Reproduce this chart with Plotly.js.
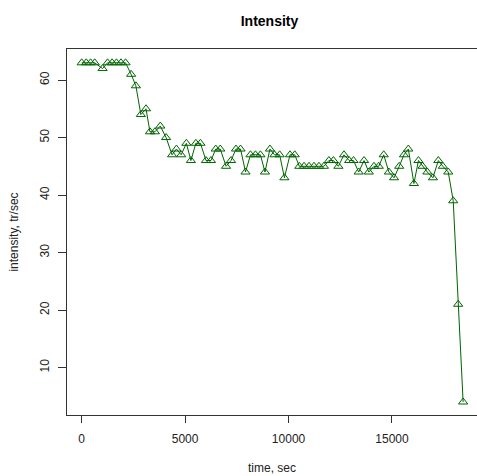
<!DOCTYPE html>
<html>
<head>
<meta charset="utf-8">
<script src="https://cdn.plot.ly/plotly-3.0.1.min.js"></script>
<style>html,body{margin:0;padding:0;background:#fff;}#chart{width:477px;height:476px;}</style>
</head>
<body>
<div id="chart"></div>
<script>
const times = [0, 220, 430, 630, 1010, 1250, 1470, 1680, 1900, 2120,
  2390, 2620, 2860, 3110, 3300, 3540, 3800, 4080, 4370, 4580,
  4810, 5060, 5280, 5520, 5740, 6010, 6250, 6480, 6700, 6980,
  7220, 7460, 7680, 7920, 8160, 8400, 8640, 8860, 9100, 9320,
  9570, 9800, 10070, 10300, 10520, 10750, 10990, 11230, 11470, 11710,
  11950, 12170, 12410, 12680, 12930, 13140, 13390, 13650, 13880, 14130,
  14360, 14600, 14850, 15100, 15350, 15580, 15790, 16060, 16280, 16480,
  16710, 16980, 17240, 17460, 17720, 17960, 18200, 18440];
const intensity = [63, 63, 63, 63, 62, 63, 63, 63, 63, 63,
  61, 59, 54, 55, 51, 51, 52, 50, 47, 48,
  47, 49, 46, 49, 49, 46, 46, 48, 48, 45,
  46, 48, 48, 44, 47, 47, 47, 44, 48, 47,
  47, 43, 47, 47, 45, 45, 45, 45, 45, 45,
  46, 46, 45, 47, 46, 46, 44, 46, 44, 45,
  45, 47, 44, 43, 45, 47, 48, 42, 46, 45,
  44, 43, 46, 45, 44, 39, 21, 4];
const xTicks = [0, 5000, 10000, 15000];
const yTicks = [10, 20, 30, 40, 50, 60];

const font = {family: 'Liberation Sans, Arial, sans-serif', size: 12, color: '#222'};
const trace = {
  x: times, y: intensity, type: 'scatter', mode: 'lines+markers',
  line: {color: '#006400', width: 1},
  marker: {symbol: 'triangle-up-open', size: 8, color: '#006400', line: {width: 1, color: '#006400'}},
  hoverinfo: 'x+y'
};
const layout = {
  width: 477, height: 476,
  margin: {l: 67, r: 0, t: 49, b: 61},
  paper_bgcolor: '#fff', plot_bgcolor: '#fff',
  showlegend: false,
  font: font,
  title: {text: '<b>Intensity</b>', font: {family: 'Liberation Sans, Arial, sans-serif', size: 14, color: '#000'}, x: 0.565, xanchor: 'center', y: 0.955, yanchor: 'middle'},
  xaxis: {
    range: [-710, 19110], tickvals: xTicks, ticktext: xTicks.map(String),
    showgrid: false, zeroline: false, showline: true, mirror: true, linecolor: '#333', linewidth: 1,
    ticks: 'outside', ticklen: 7, tickcolor: '#333', ticklabelstandoff: 6,
    tickfont: font,
    title: {text: 'time, sec', font: font, standoff: 18}
  },
  yaxis: {
    range: [1.74, 65.4], tickvals: yTicks, ticktext: yTicks.map(String), tickangle: -90,
    showgrid: false, zeroline: false, showline: true, mirror: true, linecolor: '#333', linewidth: 1,
    ticks: 'outside', ticklen: 8, tickcolor: '#333', ticklabelstandoff: 4,
    tickfont: font,
    title: {text: 'intensity, tr/sec', font: font, standoff: 17}
  }
};
Plotly.newPlot('chart', [trace], layout, {displayModeBar: false, staticPlot: true});
</script>
</body>
</html>
